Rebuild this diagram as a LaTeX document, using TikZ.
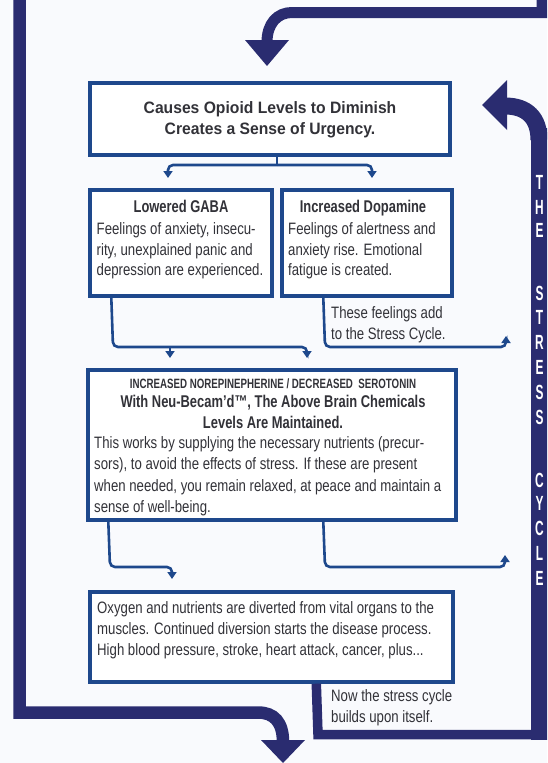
\documentclass[tikz,border=0pt]{standalone}
\usepackage{fontspec}
\setmainfont{Liberation Sans}[FakeStretch=0.8]
\newfontfamily\titlef{Liberation Sans}[FakeStretch=0.95]
\newfontfamily\headf{Liberation Sans}[FakeStretch=0.76]
\newfontfamily\capsf{Liberation Sans}[FakeStretch=0.72]
\newfontfamily\letterf{Liberation Sans}[FakeStretch=0.58]
\usetikzlibrary{arrows.meta,calc}
\definecolor{navy}{RGB}{42,44,112}
\definecolor{boxblue}{RGB}{30,72,140}
\definecolor{ink}{RGB}{50,50,56}
\definecolor{bgc}{RGB}{249,250,253}
\begin{document}
\begin{tikzpicture}[x=1pt,y=-1pt,line join=miter,
  box/.style={draw=boxblue,line width=3.4pt,fill=white,inner sep=0pt},
  conn/.style={draw=boxblue,line width=2.6pt,rounded corners=5pt},
  tipc/.style={-{Triangle[width=9pt,length=7pt]}},
  thick bar/.style={draw=navy},
  bodyt/.style={anchor=base west,inner sep=0pt,text=ink,font=\fontsize{16.5}{20}\selectfont},
  headt/.style={anchor=base,inner sep=0pt,text=ink,font=\headf\bfseries\fontsize{17}{20}\selectfont},
  titlet/.style={anchor=base,inner sep=0pt,text=ink,font=\titlef\bfseries\fontsize{16.5}{20}\selectfont},
  capst/.style={anchor=base,inner sep=0pt,text=ink,font=\capsf\bfseries\fontsize{13.5}{16}\selectfont},
  lettert/.style={inner sep=0pt,text=white,font=\letterf\bfseries\fontsize{20.5}{22}\selectfont}]
\useasboundingbox (0,0) rectangle (547,763);
\clip (0,0) rectangle (547,763);
\fill[bgc] (0,0) rectangle (547,763);

% boxes
\node[box,minimum width=360pt,minimum height=72pt] (top) at (270,119) {};
\node[box,minimum width=182pt,minimum height=106pt] (gaba) at (181,243) {};
\node[box,minimum width=170pt,minimum height=106pt] (dopa) at (367,243) {};
\node[box,minimum width=368pt,minimum height=150pt] (mid) at (272,445) {};
\node[box,minimum width=363pt,minimum height=90pt] (oxy) at (271.5,637) {};

% thick navy frame, top arrow
\draw[thick bar,line width=11pt] (542,-10) -- (542,12.5) -- (292,12.5)
   .. controls (277,12.5) and (267,24) .. (267,42);
\fill[navy] (245,40) -- (289,40) -- (267,66) -- cycle;

% left frame, bottom arrow
\draw[thick bar,line width=12.5pt] (19.5,-10) -- (19.5,712.5) -- (258,712.5)
   .. controls (274,712.5) and (283,722) .. (283,742);
\fill[navy] (261,740) -- (305,740) -- (283,763) -- cycle;

% stress cycle path
\draw[thick bar,line width=9.5pt] ([xshift=228pt]oxy.south west) -- (318,734.5) -- (540,734.5);
\fill[navy] (530.5,128) rectangle (550,740);
\draw[thick bar,line width=17pt] (539,140) .. controls (539,118) and (527,106) .. (505,106);
\fill[navy] (507,80) -- (482,105) -- (507,130) -- cycle;

% thin connectors
\coordinate (split) at (277,165);
\coordinate (tipG) at (168,178);
\coordinate (tipD) at (372,178);
\draw[conn] ([xshift=7pt]top.south) -- (split);
\draw[conn,tipc] (split) -- (168,165) -- (tipG);
\draw[conn,tipc] (split) -- (372,165) -- (tipD);

\coordinate (tipM1) at (170,358);
\coordinate (tipM2) at (307,358);
\draw[conn,tipc] ([xshift=23pt]gaba.south west) -- (113,347) -- (307,347) -- (tipM2);
\draw[conn,tipc] (170,347) -- (tipM1);

\coordinate (tipC1) at (506,336);
\draw[conn,tipc] ([xshift=43pt]dopa.south west) -- (325,347) -- (506,347) -- (tipC1);

\coordinate (tipO) at (172,579);
\draw[conn,tipc] ([xshift=22pt]mid.south west) -- (110,567) -- (172,567) -- (tipO);

\coordinate (tipC2) at (505,555);
\draw[conn,tipc] ([xshift=237pt]mid.south west) -- (325,567) -- (505,567) -- (tipC2);

% texts
\node[titlet] (t1) at (270,113) {Causes Opioid Levels to Diminish};
\node[titlet] (t2) at (270,134) {Creates a Sense of Urgency.};

\node[headt] (gh) at (181,212) {Lowered GABA};
\node[bodyt] (g1) at (96.5,234) {Feelings of anxiety, insecu-};
\node[bodyt] (g2) at (96.5,255) {rity, unexplained panic and};
\node[bodyt] (g3) at (96.5,275) {depression are experienced.};

\node[headt] (dh) at (363,212) {Increased Dopamine};
\node[bodyt] (d1) at (288,234) {Feelings of alertness and};
\node[bodyt] (d2) at (288,255) {anxiety rise. Emotional};
\node[bodyt] (d3) at (288,275) {fatigue is created.};

\node[bodyt] (f1) at (331,318) {These feelings add};
\node[bodyt] (f2) at (331,339) {to the Stress Cycle.};

\node[capst] (m0) at (273,388) {INCREASED NOREPINEPHERINE / DECREASED\ \ SEROTONIN};
\node[headt] (m1) at (273,407) {With Neu-Becam’d™, The Above Brain Chemicals};
\node[headt] (m2) at (273,428) {Levels Are Maintained.};
\node[bodyt] (b1) at (94,448) {This works by supplying the necessary nutrients (precur-};
\node[bodyt] (b2) at (94,469) {sors), to avoid the effects of stress. If these are present};
\node[bodyt] (b3) at (94,491) {when needed, you remain relaxed, at peace and maintain a};
\node[bodyt] (b4) at (94,512) {sense of well-being.};

\node[bodyt] (o1) at (97,613) {Oxygen and nutrients are diverted from vital organs to the};
\node[bodyt] (o2) at (97,634) {muscles. Continued diversion starts the disease process.};
\node[bodyt] (o3) at (97,655) {High blood pressure, stroke, heart attack, cancer, plus...};

\node[bodyt] (n1) at (331,701) {Now the stress cycle};
\node[bodyt] (n2) at (331,722) {builds upon itself.};

\foreach \l/\yy [count=\i] in {T/182,H/207,E/230,S/293,T/317,R/342,E/367,S/392,S/417,C/480,Y/503,C/528,L/553,E/578}
  \node[lettert] (cl\i) at (539.5,\yy) {\l};
\end{tikzpicture}
\end{document}
